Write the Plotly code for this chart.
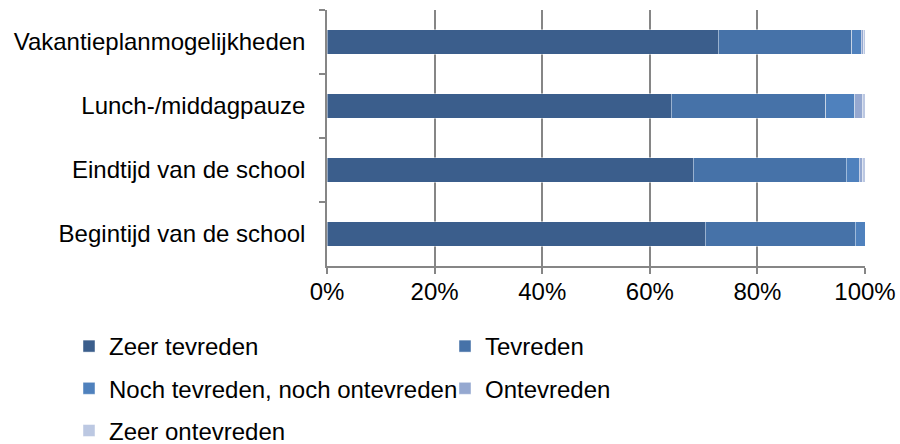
import plotly.graph_objects as go

categories = ["Vakantieplanmogelijkheden", "Lunch-/middagpauze", "Eindtijd van de school", "Begintijd van de school"]
series_names = ["Zeer tevreden", "Tevreden", "Noch tevreden, noch ontevreden", "Ontevreden", "Zeer ontevreden"]
zeer_tevreden = [72.7, 64.0, 68.1, 70.3]
tevreden = [24.8, 28.7, 28.4, 27.9]
noch = [1.8, 5.4, 2.4, 1.8]
ontevreden = [0.5, 1.4, 0.7, 0.0]
zeer_ontevreden = [0.2, 0.5, 0.4, 0.0]
x_ticks = [0, 20, 40, 60, 80, 100]
x_tick_labels = ["0%", "20%", "40%", "60%", "80%", "100%"]

colors = ["#3B5E8C", "#4672A8", "#4F81BD", "#95A8D0", "#BCC8E2"]
values = [zeer_tevreden, tevreden, noch, ontevreden, zeer_ontevreden]
legend_ids = ["legend", "legend2", "legend", "legend2", "legend"]

FONT = "Liberation Sans, Arial, sans-serif"
fig = go.Figure()
for name, vals, col, lg in zip(series_names, values, colors, legend_ids):
    fig.add_trace(go.Bar(
        y=categories, x=vals, name=name, orientation="h",
        marker=dict(color=col, line=dict(color="rgba(255,255,255,0.45)", width=1)),
        width=0.39, legend=lg, legendgroup=name,
    ))

legend_common = dict(
    orientation="v", xref="container", yref="container",
    xanchor="left", yanchor="top",
    font=dict(family=FONT, size=24, color="#000000"),
    itemwidth=30, traceorder="grouped", tracegroupgap=8,
    bgcolor="rgba(0,0,0,0)",
)

fig.update_layout(
    barmode="stack",
    width=900, height=444,
    margin=dict(l=327, r=35, t=10, b=178, autoexpand=False),
    paper_bgcolor="white", plot_bgcolor="white",
    font=dict(family=FONT, size=24, color="#000000"),
    showlegend=True,
    legend=dict(x=69 / 900, y=1 - 324 / 444, **legend_common),
    legend2=dict(x=445 / 900, y=1 - 324 / 444, **legend_common),
    xaxis=dict(
        range=[0, 100], tickvals=x_ticks, ticktext=x_tick_labels,
        showgrid=True, gridcolor="#868686", gridwidth=1.5,
        showline=True, linecolor="#868686", linewidth=1.5,
        ticks="outside", ticklen=6, tickcolor="#868686", tickwidth=1.5,
        zeroline=False, ticklabelstandoff=-3, automargin=False,
        tickfont=dict(family=FONT, size=24, color="#000000"),
    ),
    yaxis=dict(
        categoryorder="array", categoryarray=categories, autorange="reversed",
        showline=True, linecolor="#868686", linewidth=1.5,
        ticks="outside", ticklen=6, tickcolor="#868686", tickwidth=1.5,
        tickson="boundaries", showgrid=False, ticklabelstandoff=15, automargin=False,
        tickfont=dict(family=FONT, size=24, color="#000000"),
    ),
    bargap=0.61,
)

fig.write_html("out.html", config={"displayModeBar": False},
               post_script="document.body.style.margin='0';")
